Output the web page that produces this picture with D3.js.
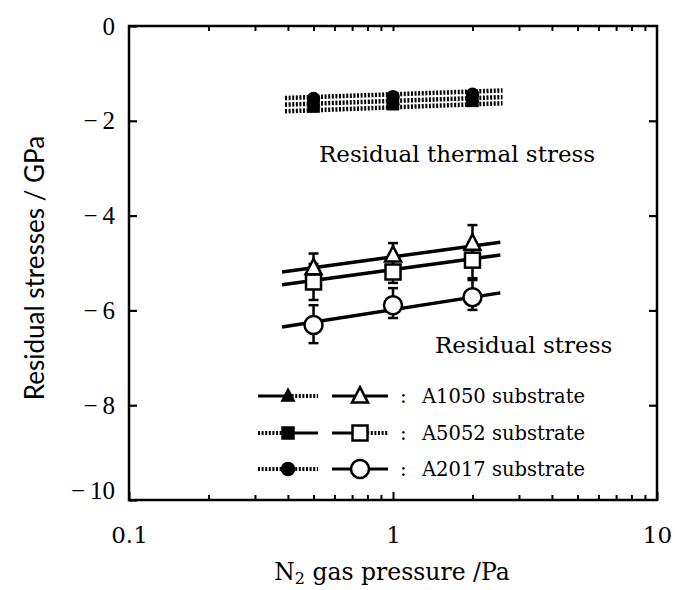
<!DOCTYPE html>
<html>
<head>
<meta charset="utf-8">
<script src="https://cdn.jsdelivr.net/npm/d3@7"></script>
<style>
  html, body { margin: 0; padding: 0; background: #fff; }
  svg { display: block; }
</style>
</head>
<body>
<svg id="chart" width="675" height="590"></svg>
<script>
// N2 gas pressure (Pa) at which films were deposited
const pressures = [0.5, 1, 2];

// Substrates, in legend order
const substrates = ["A1050", "A5052", "A2017"];
const markerShapes = ["triangle", "square", "circle"];

// Residual stress (GPa) with error half-widths
const residualA1050 = [-5.10, -4.83, -4.58];
const residualA5052 = [-5.40, -5.19, -4.94];
const residualA2017 = [-6.31, -5.89, -5.72];
const errorUpA1050 = [0.30, 0.25, 0.38];
const errorDnA1050 = [0.30, 0.25, 0.30];
const errorUpA5052 = [0.38, 0.25, 0.38];
const errorDnA5052 = [0.38, 0.23, 0.38];
const errorUpA2017 = [0.42, 0.36, 0.36];
const errorDnA2017 = [0.38, 0.27, 0.27];

// Fitted trend lines of residual stress (start / end pressure and stress)
const fitPressure = [0.38, 2.55];
const fitA1050 = [-5.19, -4.56];
const fitA5052 = [-5.46, -4.83];
const fitA2017 = [-6.35, -5.63];

// Residual thermal stress (GPa)
const thermalA1050 = [-1.60, -1.55, -1.50];
const thermalA5052 = [-1.70, -1.65, -1.58];
const thermalA2017 = [-1.53, -1.49, -1.44];
const thermalLinePressure = [0.39, 2.6];
const thermalLineA1050 = [-1.52, -1.36];
const thermalLineA5052 = [-1.66, -1.50];
const thermalLineA2017 = [-1.80, -1.63];

// Axis ticks
const yTicks = [0, -2, -4, -6, -8, -10];
const xTicks = [0.1, 1, 10];
const xMinorTicks = [0.2, 0.3, 0.4, 0.5, 0.6, 0.7, 0.8, 0.9, 2, 3, 4, 5, 6, 7, 8, 9];

const residual = [residualA1050, residualA5052, residualA2017];
const errUp = [errorUpA1050, errorUpA5052, errorUpA2017];
const errDn = [errorDnA1050, errorDnA5052, errorDnA2017];
const fits = [fitA1050, fitA5052, fitA2017];
const thermal = [thermalA1050, thermalA5052, thermalA2017];
const thermalLines = [thermalLineA1050, thermalLineA5052, thermalLineA2017];

const svg = d3.select("#chart");
const plotLeft = 129, plotRight = 657, plotTop = 26, plotBottom = 500;

const x = d3.scaleLog().domain([0.1, 10]).range([plotLeft, plotRight]);
const y = d3.scaleLinear().domain([-10, 0]).range([plotBottom, plotTop]);

const serif = "'DejaVu Serif', serif";
const tickFont = "'Liberation Serif', serif";
const sans = "Lato, 'Open Sans', sans-serif";

// Frame
svg.append("rect")
  .attr("x", plotLeft).attr("y", plotTop)
  .attr("width", plotRight - plotLeft).attr("height", plotBottom - plotTop)
  .attr("fill", "none").attr("stroke", "#000").attr("stroke-width", 2.5);

// Left axis with inward ticks
const yAxis = svg.append("g").attr("transform", `translate(${plotLeft},0)`)
  .call(d3.axisLeft(y).tickValues(yTicks).tickSize(-8).tickPadding(14)
    .tickFormat(d => d === 0 ? "0" : "\u2212\u2009" + Math.abs(d)));
yAxis.select(".domain").remove();
yAxis.selectAll("line").attr("stroke-width", 2.2);
yAxis.selectAll("text").attr("font-family", tickFont).attr("font-size", 25).attr("fill", "#000")
  .attr("dy", d => d === -10 ? "-0.05em" : "0.32em");

// Right axis ticks
const yAxisR = svg.append("g").attr("transform", `translate(${plotRight},0)`)
  .call(d3.axisRight(y).tickValues(yTicks.filter(d => d !== 0 && d !== -10)).tickSize(-8).tickFormat(""));
yAxisR.select(".domain").remove();
yAxisR.selectAll("line").attr("stroke-width", 2.2);

// Bottom axis: major and minor ticks
const xAxis = svg.append("g").attr("transform", `translate(0,${plotBottom})`)
  .call(d3.axisBottom(x).tickValues(xTicks).tickSize(-8).tickPadding(27)
    .tickFormat(d => d < 1 ? "0.1" : String(d)));
xAxis.select(".domain").remove();
xAxis.selectAll("line").attr("stroke-width", 2);
xAxis.selectAll("text").attr("font-family", serif).attr("font-size", 23).attr("fill", "#000");

const xMinor = svg.append("g").attr("transform", `translate(0,${plotBottom})`)
  .call(d3.axisBottom(x).tickValues(xMinorTicks).tickSize(-5).tickFormat(""));
xMinor.select(".domain").remove();
xMinor.selectAll("line").attr("stroke-width", 2);

// Top axis ticks
const xTop = svg.append("g").attr("transform", `translate(0,${plotTop})`)
  .call(d3.axisTop(x).tickValues(xMinorTicks.concat([1])).tickSize(-5).tickFormat(""));
xTop.select(".domain").remove();
xTop.selectAll("line").attr("stroke-width", 2);

// Axis titles
svg.append("text")
  .attr("transform", `translate(44,${(plotTop + plotBottom) / 2 + 5}) rotate(-90)`)
  .attr("text-anchor", "middle")
  .attr("font-family", sans).attr("font-size", 26)
  .text("Residual stresses / GPa");

const xTitle = svg.append("text")
  .attr("x", (plotLeft + plotRight) / 2 - 1).attr("y", 580)
  .attr("text-anchor", "middle")
  .attr("font-family", serif).attr("font-size", 23.5);
xTitle.append("tspan").text("N");
xTitle.append("tspan").attr("font-size", 16).attr("dy", 4).text("2");
xTitle.append("tspan").attr("dy", -4).text(" gas pressure /Pa");

// Marker drawing helper
function drawMarker(g, shape, cx, cy, filled, size) {
  const fill = filled ? "#000" : "#fff";
  if (shape === "circle") {
    g.append("circle").attr("cx", cx).attr("cy", cy).attr("r", size)
      .attr("fill", fill).attr("stroke", "#000").attr("stroke-width", 2.5);
  } else if (shape === "square") {
    g.append("rect").attr("x", cx - size).attr("y", cy - size)
      .attr("width", 2 * size).attr("height", 2 * size)
      .attr("fill", fill).attr("stroke", "#000").attr("stroke-width", 2.5);
  } else {
    const h = size * 1.1;
    g.append("path")
      .attr("d", `M${cx},${cy - h}L${cx + size},${cy + h * 0.75}L${cx - size},${cy + h * 0.75}Z`)
      .attr("fill", fill).attr("stroke", "#000").attr("stroke-width", 2.5);
  }
}

const dotted = "2,1.6";

// Thermal stress: dotted trend lines
const lineGen = d3.line().x(d => x(d[0])).y(d => y(d[1]));
thermalLines.forEach(vals => {
  svg.append("path")
    .datum(thermalLinePressure.map((p, i) => [p, vals[i]]))
    .attr("d", lineGen)
    .attr("fill", "none").attr("stroke", "#000")
    .attr("stroke-width", 4.5).attr("stroke-dasharray", dotted);
});

// Thermal stress: filled markers
const thermalG = svg.append("g");
[0, 1, 2].forEach(s => {
  pressures.forEach((p, i) => {
    drawMarker(thermalG, markerShapes[s], x(p), y(thermal[s][i]), true, markerShapes[s] === "circle" ? 5.5 : 5);
  });
});

// Residual stress: fitted lines
fits.forEach(vals => {
  svg.append("path")
    .datum(fitPressure.map((p, i) => [p, vals[i]]))
    .attr("d", lineGen)
    .attr("fill", "none").attr("stroke", "#000").attr("stroke-width", 3.5);
});

// Residual stress: error bars
const errG = svg.append("g").attr("stroke", "#000").attr("stroke-width", 2.5);
[0, 1, 2].forEach(s => {
  pressures.forEach((p, i) => {
    const cx = x(p);
    const yHi = y(residual[s][i] + errUp[s][i]);
    const yLo = y(residual[s][i] - errDn[s][i]);
    errG.append("line").attr("x1", cx).attr("x2", cx).attr("y1", yHi).attr("y2", yLo);
    errG.append("line").attr("x1", cx - 5).attr("x2", cx + 5).attr("y1", yHi).attr("y2", yHi);
    errG.append("line").attr("x1", cx - 5).attr("x2", cx + 5).attr("y1", yLo).attr("y2", yLo);
  });
});

// Residual stress: open markers
const openG = svg.append("g");
[1, 2, 0].forEach(s => {
  pressures.forEach((p, i) => {
    const size = markerShapes[s] === "circle" ? 9 : markerShapes[s] === "square" ? 7.5 : 8;
    drawMarker(openG, markerShapes[s], x(p), y(residual[s][i]), false, size);
  });
});

// Annotations
svg.append("text").attr("x", 319).attr("y", 162)
  .attr("font-family", serif).attr("font-size", 23)
  .text("Residual thermal stress");
svg.append("text").attr("x", 435).attr("y", 353)
  .attr("font-family", serif).attr("font-size", 23)
  .text("Residual stress");

// Legend
const legendRows = [396, 433, 469];
const legendStyles = [
  { a: null, b: dotted, c: null, d: null },
  { a: dotted, b: null, c: null, d: dotted },
  { a: dotted, b: dotted, c: null, d: null }
];
const legendG = svg.append("g");
substrates.forEach((name, s) => {
  const ly = legendRows[s];
  const st = legendStyles[s];
  const seg = (x1, x2, dash) => {
    const l = legendG.append("line").attr("x1", x1).attr("x2", x2).attr("y1", ly).attr("y2", ly)
      .attr("stroke", "#000").attr("stroke-width", dash ? 4 : 3);
    if (dash) l.attr("stroke-dasharray", dash);
  };
  seg(258, 288, st.a);
  seg(288, 318, st.b);
  drawMarker(legendG, markerShapes[s], 288, ly, true, markerShapes[s] === "circle" ? 6 : 5.5);
  seg(332, 360, st.c);
  seg(360, 388, st.d);
  drawMarker(legendG, markerShapes[s], 360, ly,
    false, markerShapes[s] === "circle" ? 9 : markerShapes[s] === "square" ? 7.5 : 8);
  legendG.append("text").attr("x", 400).attr("y", ly + 7)
    .attr("font-family", serif).attr("font-size", 20).text(":");
  legendG.append("text").attr("x", 422).attr("y", ly + 7)
    .attr("font-family", serif).attr("font-size", 19.5).text(name + " substrate");
});
</script>
</body>
</html>
